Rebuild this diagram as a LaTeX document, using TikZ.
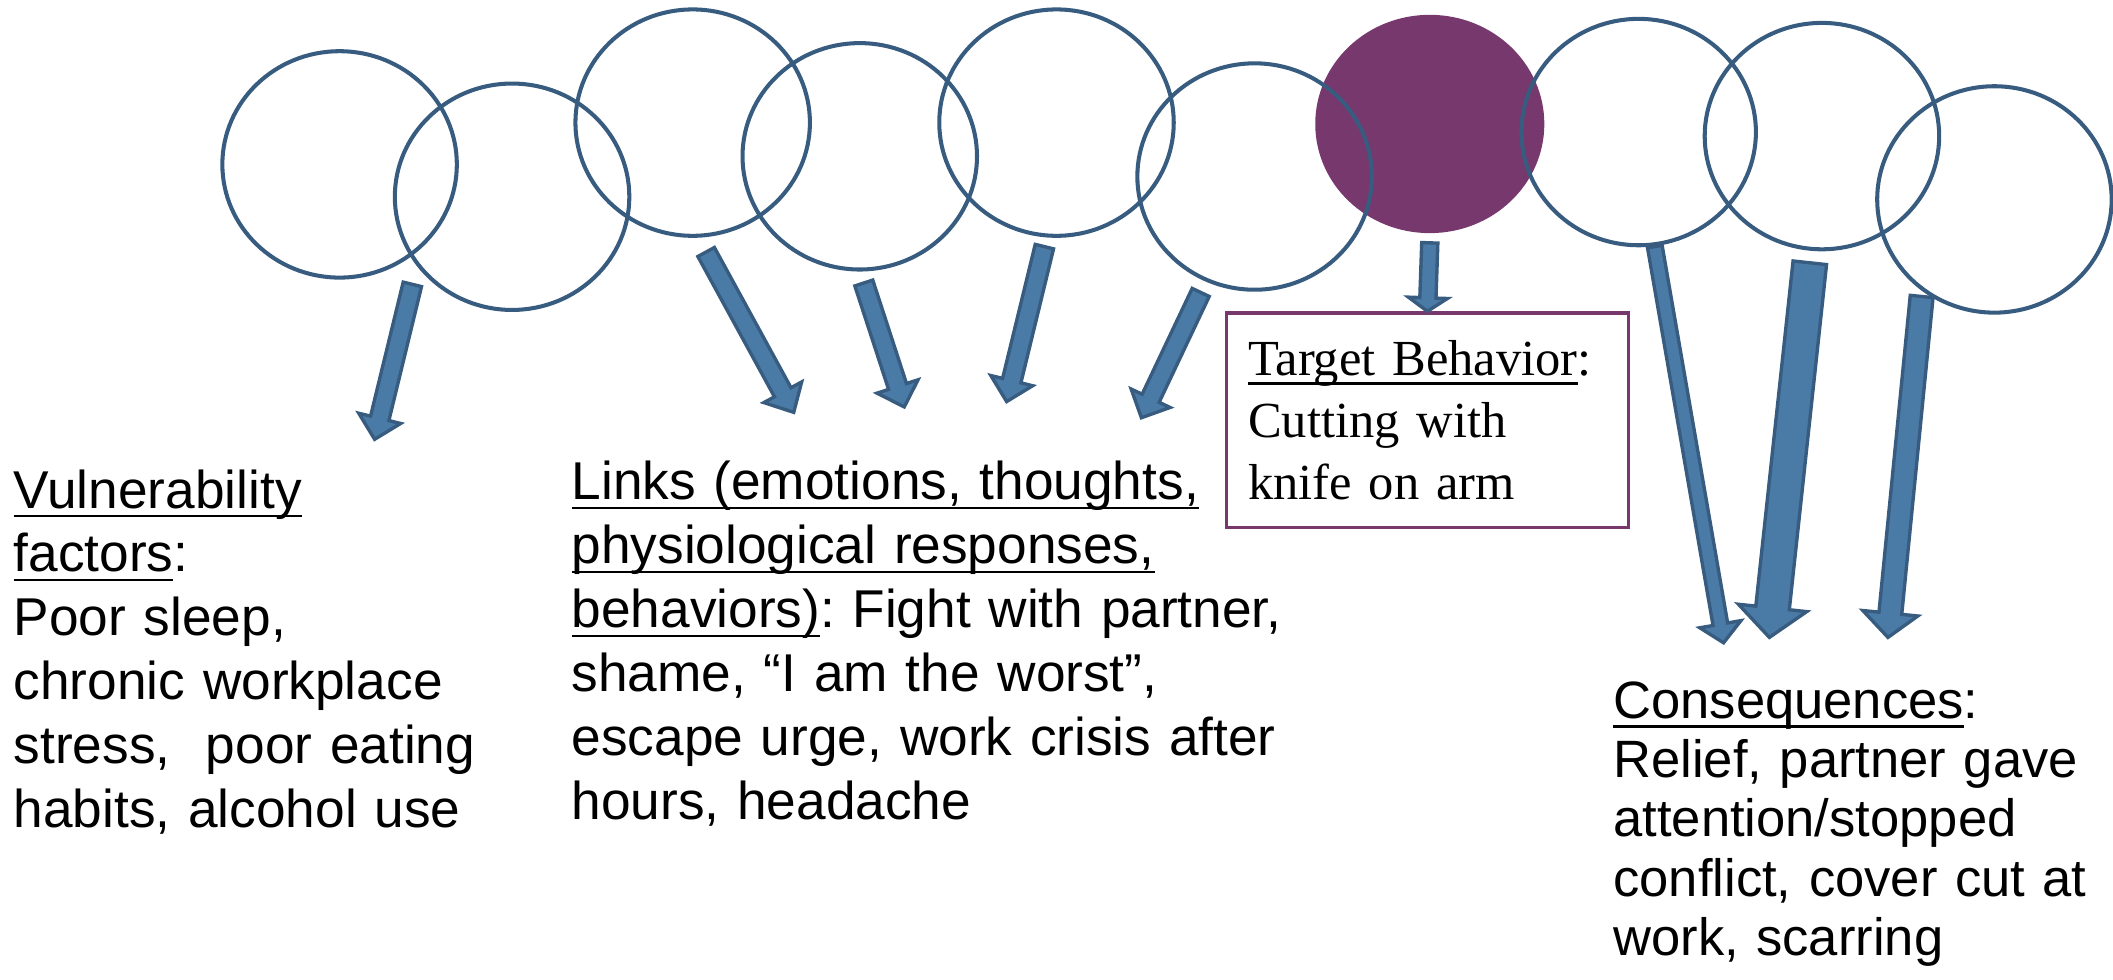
\documentclass[tikz,border=0pt]{standalone}
\usepackage{fontspec}
\setmainfont{Liberation Sans}
\newfontfamily\boxfont{Liberation Serif}
\usepackage{xcolor}
\usepackage{tikz}
\usetikzlibrary{shapes.geometric, calc}

\definecolor{ringblue}{HTML}{385C7F}
\definecolor{arrowblue}{HTML}{4A7BA7}
\definecolor{plum}{HTML}{77386D}

\frenchspacing

% underline at a fixed depth
\newcommand{\undl}[1]{\leavevmode\setbox0\hbox{#1}\rlap{\rule[-7pt]{\wd0}{1.8pt}}\box0}

% block arrow: #1 tail, #2 tip, #3 half shaft, #4 half head, #5 head length
\newcommand{\blockarrow}[5]{%
    \coordinate (hb) at ($(#2)!#5!(#1)$);
    \draw[barrow] ($(#1)!#3!90:(#2)$) -- ($(hb)!#3!90:(#2)$) -- ($(hb)!#4!90:(#2)$) -- (#2)
        -- ($(hb)!#4!-90:(#2)$) -- ($(hb)!#3!-90:(#2)$) -- ($(#1)!#3!-90:(#2)$) -- cycle;
}

\begin{document}
\begin{tikzpicture}[x=1pt, y=-1pt,
        ring/.style={ellipse, draw=ringblue, line width=3pt, minimum width=174pt, minimum height=168pt, inner sep=0pt},
        tbring/.style={ellipse, fill=plum, minimum width=170pt, minimum height=162pt, inner sep=0pt},
        barrow/.style={fill=arrowblue, draw=ringblue, line width=2.5pt, line join=miter},
        txt/.style={font=\fontsize{39.5}{47.4}\selectfont, align=left, inner sep=0pt},
        constxt/.style={font=\fontsize{39}{44}\selectfont, align=left, inner sep=0pt},
        tgtbox/.style={draw=plum, line width=2.5pt, font=\boxfont\fontsize{37.5}{46}\selectfont, align=left, inner xsep=16pt, inner ysep=0pt}
    ]
        \useasboundingbox (0,0) rectangle (1568,727);

        \node[tbring] (tb) at (1061,92) {};

        \node[ring] (v1) at (252,122) {};
        \node[ring] (v2) at (380,146) {};
        \node[ring] (l1) at (514,91) {};
        \node[ring] (l2) at (638,116) {};
        \node[ring] (l3) at (784,91) {};
        \node[ring] (l4) at (931,131) {};
        \node[ring] (c1) at (1216,98) {};
        \node[ring] (c2) at (1352,101) {};
        \node[ring] (c3) at (1480,148) {};

        \node[txt, anchor=base west, text width=380pt] (vuln) at (10,377)
            {\undl{Vulnerability}\\ \undl{factors}:\\ Poor sleep,\\ chronic workplace\\ stress,~ poor eating\\ habits, alcohol use};
        \node[txt, anchor=base west, text width=560pt] (links) at (424,371)
            {\undl{Links (emotions, thoughts,}\\ \undl{physiological responses,}\\ \undl{behaviors)}: Fight with partner,\\ shame, “I am the worst”,\\ escape urge, work crisis after\\ hours, headache};
        \node[tgtbox, anchor=north west, minimum width=298pt, minimum height=159pt, text width=266pt] (tgt) at (909,231)
            {\undl{Target Behavior}:\\ Cutting with\\ knife on arm};
        \node[constxt, anchor=base west, text width=370pt] (cons) at (1197,533)
            {\undl{Consequences}:\\ Relief, partner gave\\ attention/stopped\\ conflict, cover cut at\\ work, scarring};

        \coordinate (v-from) at (306,211);   \coordinate (v-to) at (278,326);
        \coordinate (l1-from) at (524,187);  \coordinate (l1-to) at (589,306);
        \coordinate (l2-from) at (641,210);  \coordinate (l2-to) at (671,302);
        \coordinate (l3-from) at (775,183);  \coordinate (l3-to) at (747,298);
        \coordinate (l4-from) at (891,217);  \coordinate (l4-to) at (847,310);
        \coordinate (tb-from) at ([yshift=-7pt]tb.south);
        \coordinate (c1-from) at (1228,183); \coordinate (c1-to) at (1279,477);
        \coordinate (c2-from) at (1343,195); \coordinate (c2-to) at (1313,473);
        \coordinate (c3-from) at (1426,220); \coordinate (c3-to) at (1401,473);

        \blockarrow{v-from}{v-to}{7pt}{16pt}{16pt}
        \blockarrow{l1-from}{l1-to}{7pt}{16pt}{17pt}
        \blockarrow{l2-from}{l2-to}{7pt}{16pt}{16pt}
        \blockarrow{l3-from}{l3-to}{7pt}{16pt}{16pt}
        \blockarrow{l4-from}{l4-to}{7pt}{16pt}{16pt}
        \blockarrow{tb-from}{tgt.north}{6pt}{14.5pt}{10pt}
        \blockarrow{c1-from}{c1-to}{5.5pt}{15.5pt}{14pt}
        \blockarrow{c2-from}{c2-to}{12.5pt}{25.5pt}{22pt}
        \blockarrow{c3-from}{c3-to}{8.5pt}{20.5pt}{18pt}
    \end{tikzpicture}
\end{document}
